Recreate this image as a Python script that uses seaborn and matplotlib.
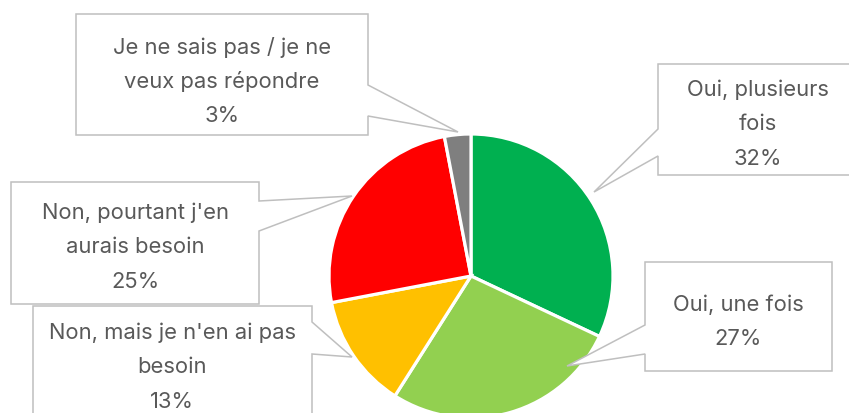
import matplotlib
matplotlib.use("Agg")
import matplotlib.pyplot as plt
import seaborn as sns
from matplotlib.patches import Polygon

# Survey answers (clockwise from 12 o'clock)
categories = [
    "Oui, plusieurs\nfois",
    "Oui, une fois",
    "Non, mais je n'en ai pas\nbesoin",
    "Non, pourtant j'en\naurais besoin",
    "Je ne sais pas / je ne\nveux pas répondre",
]
shares = [32, 27, 13, 25, 3]
colors = ["#00B050", "#92D050", "#FFC000", "#FF0000", "#7F7F7F"]

W, H = 849, 414

sns.set_theme(style="white")
plt.rcParams["font.family"] = ["Inter", "DejaVu Sans"]

fig = plt.figure(figsize=(W / 100, H / 100), dpi=100)
ax = fig.add_axes([0, 0, 1, 1])


def fy(y):
    """Convert a top-down pixel row to axes y."""
    return H - y


cx, cy, radius = 471, fy(277), 142
ax.pie(
    shares,
    colors=colors,
    startangle=90,
    counterclock=False,
    center=(cx, cy),
    radius=radius,
    frame=True,
    wedgeprops=dict(edgecolor="white", linewidth=2.3),
)
ax.set_xlim(0, W)
ax.set_ylim(0, H)
ax.set_aspect("equal")
ax.axis("off")

# Callout boxes: (left, top, right, bottom), pointer side, pointer span on
# that side, pointer tip, text centre x, first text row
callouts = [
    dict(box=(658, 65, 862, 176), side="left", span=(130, 157), tip=(594, 193), tx=758, ty=90),
    dict(box=(645, 263, 832, 372), side="left", span=(326, 355), tip=(567, 367), tx=738, ty=305),
    dict(box=(33, 307, 312, 440), side="right", span=(323, 355), tip=(352, 358), tx=172, ty=333),
    dict(box=(11, 183, 259, 305), side="right", span=(202, 232), tip=(352, 197), tx=135, ty=213),
    dict(box=(76, 15, 368, 136), side="right", span=(86, 117), tip=(458, 133), tx=222, ty=47),
]
order = [3, 2, 4, 0, 1]  # drawing order so overlapping boxes stack correctly

line_gap = 34.5
for z, i in enumerate(order):
    c = callouts[i]
    x0, y0, x1, y1 = c["box"]
    s0, s1 = c["span"]
    tx, ty = c["tip"]
    if c["side"] == "right":
        pts = [(x0, y0), (x1, y0), (x1, s0), (tx, ty), (x1, s1), (x1, y1), (x0, y1)]
    else:
        pts = [(x0, y0), (x1, y0), (x1, y1), (x0, y1), (x0, s1), (tx, ty), (x0, s0)]
    poly = Polygon([(px, fy(py)) for px, py in pts], closed=True,
                   facecolor="white", edgecolor="#BFBFBF", linewidth=1.1,
                   zorder=5 + 2 * z, joinstyle="miter")
    ax.add_patch(poly)
    lines = categories[i].split("\n") + [f"{shares[i]}%"]
    for k, line in enumerate(lines):
        ax.text(c["tx"], fy(c["ty"] + k * line_gap), line, ha="center", va="center",
                fontsize=15.8, color="#595959", zorder=6 + 2 * z)

fig.savefig("out.png", dpi=100, facecolor="white")
